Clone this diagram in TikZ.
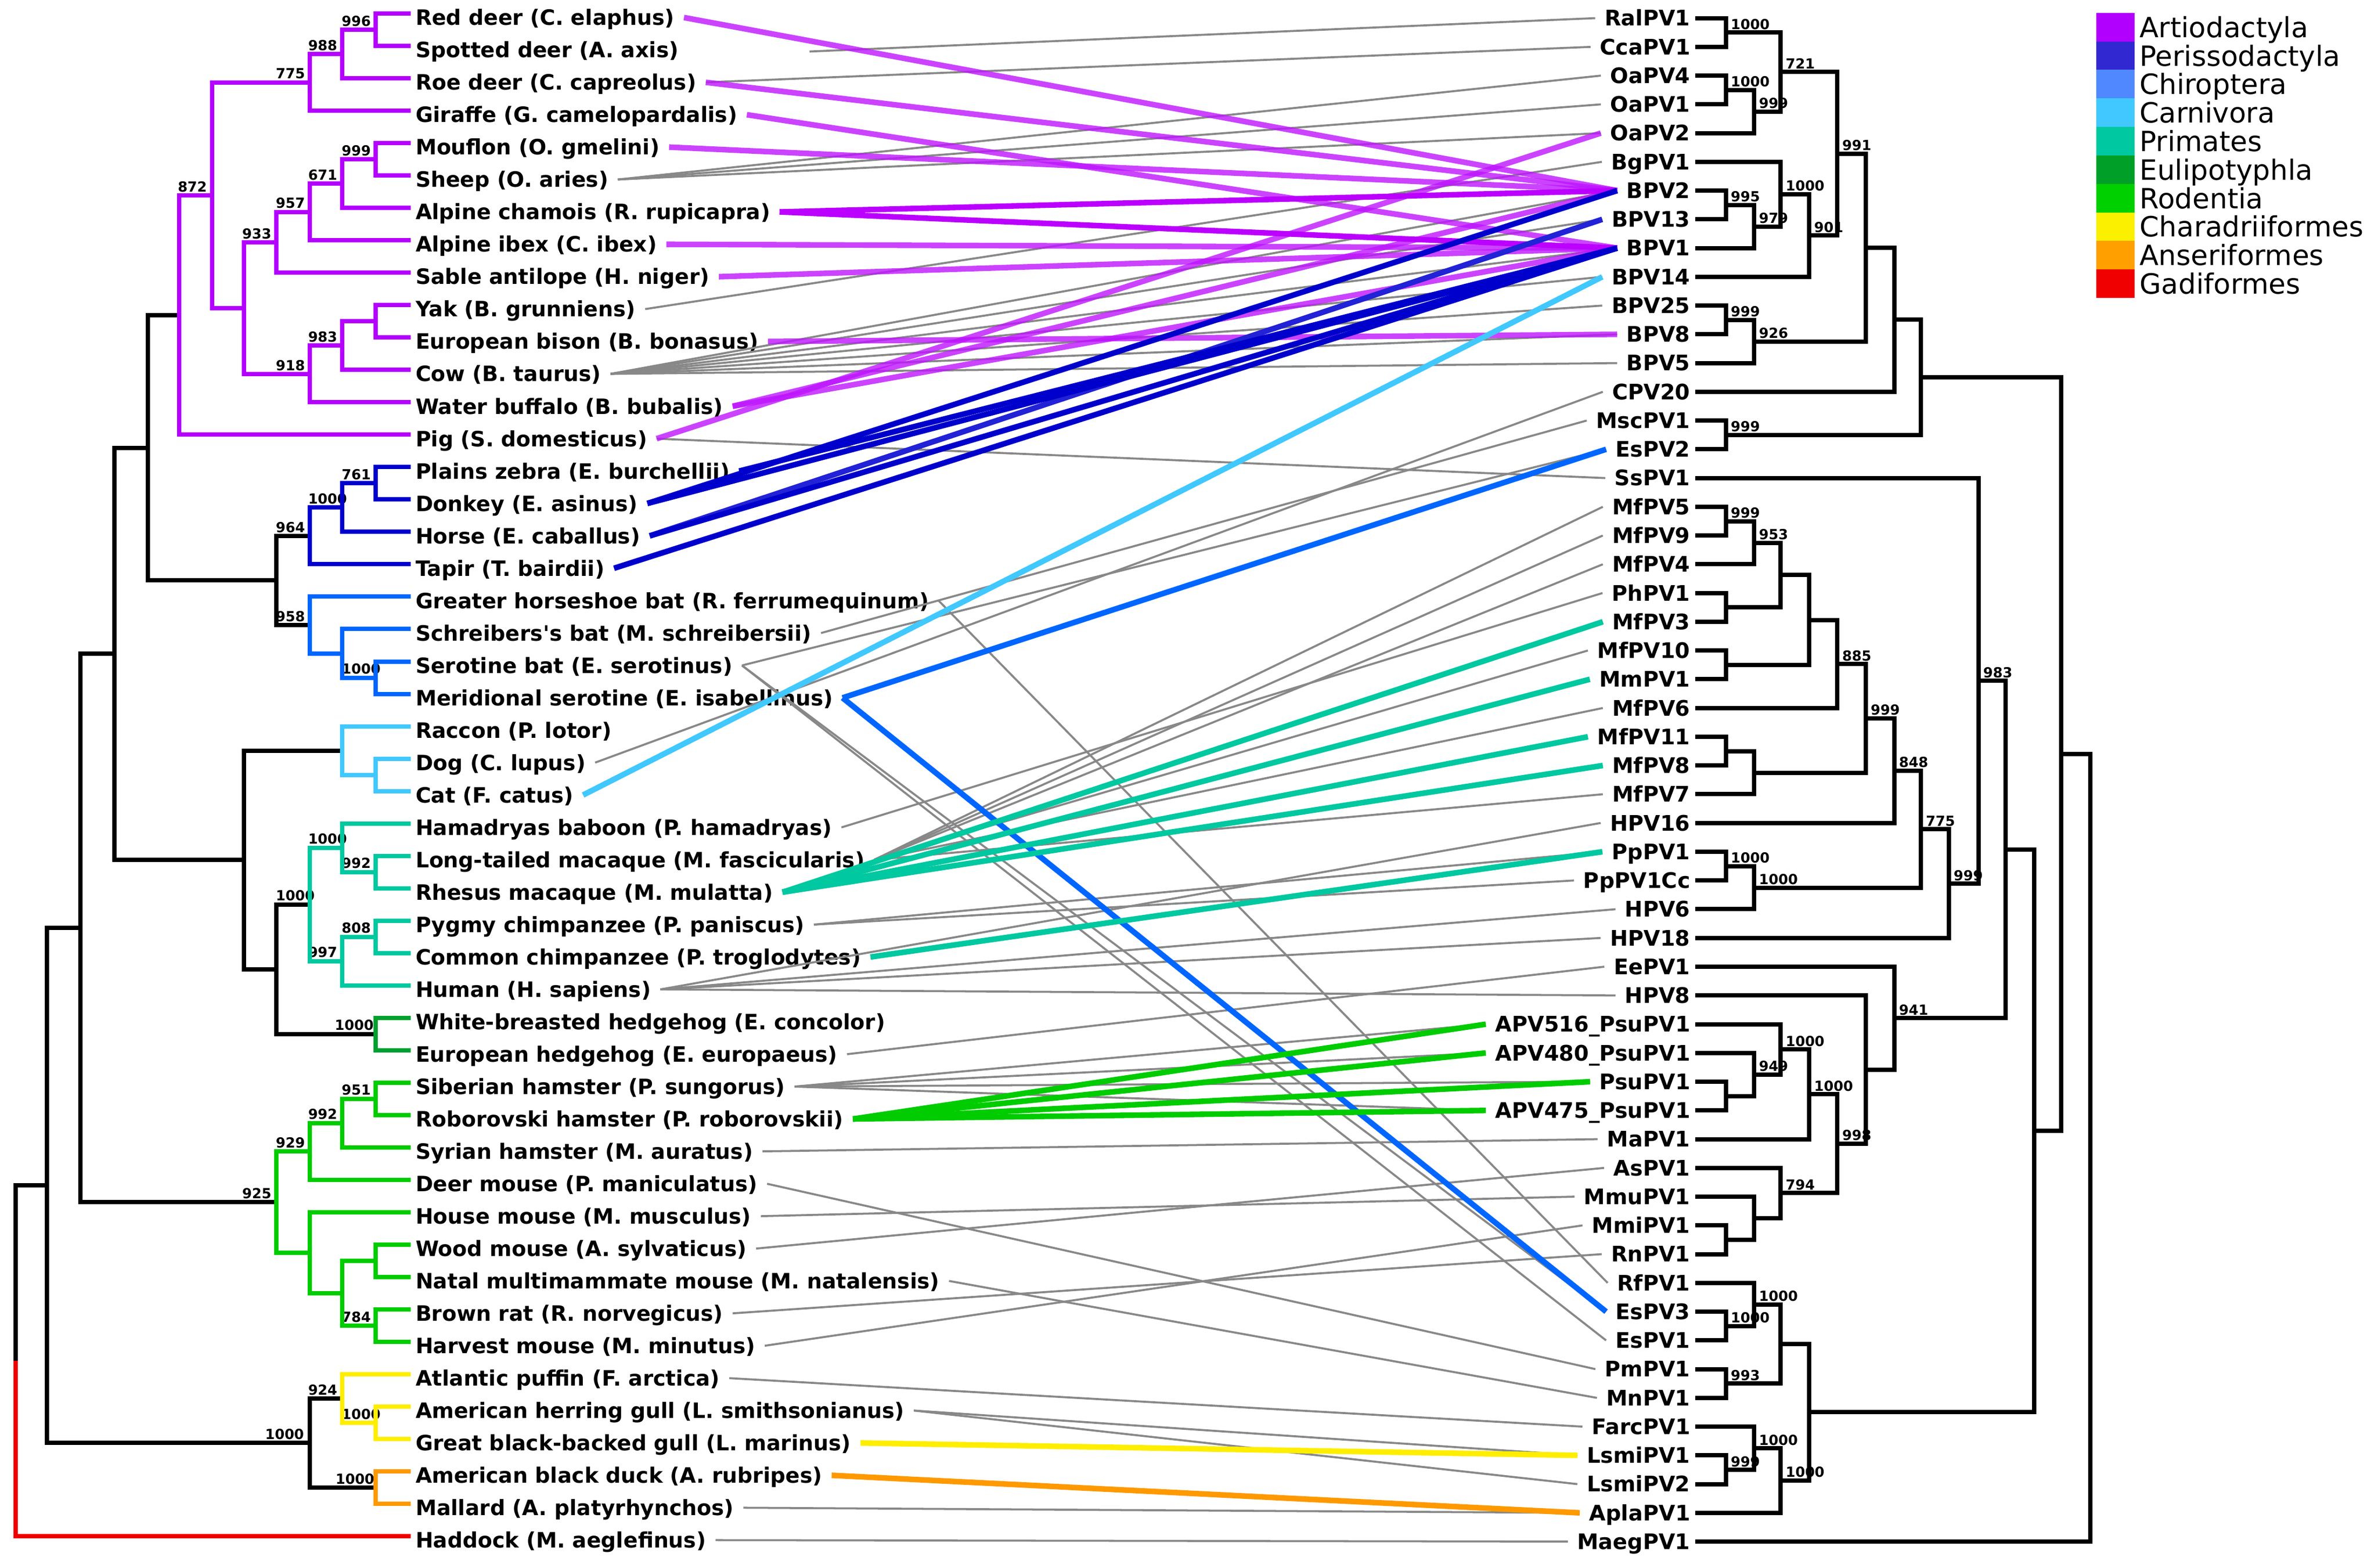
\documentclass[tikz,border=0pt]{standalone}
\usepackage{fontspec}
\setmainfont{DejaVu Sans}
\usetikzlibrary{positioning}

% tree colours
\definecolor{artio}{RGB}{180,0,255}
\definecolor{peri}{RGB}{0,0,204}
\definecolor{chiro}{RGB}{0,102,255}
\definecolor{carni}{RGB}{64,200,255}
\definecolor{prim}{RGB}{0,200,160}
\definecolor{euli}{RGB}{0,160,48}
\definecolor{rode}{RGB}{0,204,0}
\definecolor{chara}{RGB}{255,238,0}
\definecolor{anser}{RGB}{255,153,0}
\definecolor{gadi}{RGB}{238,0,0}
% legend colours
\definecolor{lgartio}{RGB}{178,0,255}
\definecolor{lgperi}{RGB}{50,40,210}
\definecolor{lgchiro}{RGB}{80,136,255}
\definecolor{lgcarni}{RGB}{64,200,255}
\definecolor{lgprim}{RGB}{0,200,160}
\definecolor{lgeuli}{RGB}{0,160,40}
\definecolor{lgrode}{RGB}{0,208,0}
\definecolor{lgchara}{RGB}{250,240,0}
\definecolor{lganser}{RGB}{255,160,0}
\definecolor{lggadi}{RGB}{240,0,0}
% link colours
\definecolor{linkgray}{RGB}{136,136,136}
\definecolor{artiolink}{RGB}{190,20,255}
\definecolor{chamlink}{RGB}{187,0,255}
\definecolor{horselink}{RGB}{34,34,214}

% one bracket of a tree: node x, child y's, child x's
\newcommand{\clade}[6][black]{%
  \draw[branch,#1] (#5,#3) -- (#2,#3) -- (#2,#4) -- (#6,#4);}

% columns of the host tree
\def\ltip{269.5}
\def\lxa{246.6}\def\lxb{224.6}\def\lxc{203.4}\def\lxd{181.4}
\def\lxe{160}\def\lxf{139.1}\def\lxg{117.4}\def\lxh{96.9}
\def\lxi{74.9}\def\lxj{52.8}\def\lxk{30.8}\def\lxl{10.3}
% columns of the virus tree
\def\rtip{1112}
\def\rxa{1132.2}\def\rxb{1150.7}\def\rxc{1168.2}\def\rxd{1186.9}
\def\rxe{1205.3}\def\rxf{1224}\def\rxg{1242.6}\def\rxh{1260.2}
\def\rxi{1278.4}\def\rxj{1297.8}\def\rxk{1315.8}\def\rxl{1334.6}
\def\rxm{1352.2}\def\rxn{1371.2}

\begin{document}
\begin{tikzpicture}[x=0.3mm,y=-0.3mm,
  branch/.style={line width=0.85mm},
  host/.style={anchor=west,inner xsep=1.8mm,inner ysep=0pt,text height=8.65pt,text depth=0pt,font=\bfseries\fontsize{11.85}{13}\selectfont},
  virus/.style={host,anchor=east,font=\bfseries\fontsize{12}{13}\selectfont},
  boot/.style={inner sep=0pt,anchor=base west,font=\bfseries\fontsize{7.8}{9}\selectfont},
  lboot/.style={boot,xshift=-6.8mm,yshift=0.72mm},
  rboot/.style={boot,xshift=0.9mm,yshift=0.63mm},
  graylink/.style={draw=linkgray,line width=0.4mm},
  hostlink/.style={line width=1.1mm},
  swatch/.style={anchor=west,minimum width=7.56mm,minimum height=5.65mm,inner sep=0pt},
  lgtext/.style={inner sep=0pt,text height=11.4pt,text depth=0pt,font=\fontsize{15.6}{18}\selectfont}]

\path[use as bounding box,fill=white] (0,0) rectangle (1560,1028.2);

%host labels
\foreach \nm/\txt [count=\i from 0] in {reddeer/Red deer (C. elaphus),
  spotdeer/Spotted deer (A. axis), roedeer/Roe deer (C. capreolus),
  giraffe/Giraffe (G. camelopardalis), mouflon/Mouflon (O. gmelini),
  sheep/Sheep (O. aries), chamois/Alpine chamois (R. rupicapra),
  ibex/Alpine ibex (C. ibex), sable/Sable antilope (H. niger),
  yak/Yak (B. grunniens), bison/European bison (B. bonasus),
  cow/Cow (B. taurus), buffalo/Water buffalo (B. bubalis),
  pig/Pig (S. domesticus), zebra/Plains zebra (E. burchellii),
  donkey/Donkey (E. asinus), horse/Horse (E. caballus),
  tapir/Tapir (T. bairdii), horseshoe/Greater horseshoe bat (R. ferrumequinum),
  schreibers/Schreibers{\textquotesingle}s bat (M. schreibersii),
  serotine/Serotine bat (E. serotinus),
  meridional/Meridional serotine (E. isabellinus),
  raccon/Raccon (P. lotor), dog/Dog (C. lupus), cat/Cat (F. catus),
  baboon/Hamadryas baboon (P. hamadryas),
  longtailed/Long-tailed macaque (M. fascicularis),
  rhesus/Rhesus macaque (M. mulatta), pygmy/Pygmy chimpanzee (P. paniscus),
  chimp/Common chimpanzee (P. troglodytes), human/Human (H. sapiens),
  whhedgehog/White-breasted hedgehog (E. concolor),
  euhedgehog/European hedgehog (E. europaeus),
  sibhamster/Siberian hamster (P. sungorus),
  robhamster/Roborovski hamster (P. roborovskii),
  syrhamster/Syrian hamster (M. auratus), deermouse/Deer mouse (P. maniculatus),
  housemouse/House mouse (M. musculus), woodmouse/Wood mouse (A. sylvaticus),
  natal/Natal multimammate mouse (M. natalensis),
  brownrat/Brown rat (R. norvegicus), harvest/Harvest mouse (M. minutus),
  puffin/Atlantic puffin (F. arctica),
  herring/American herring gull (L. smithsonianus),
  blackgull/Great black-backed gull (L. marinus),
  duck/American black duck (A. rubripes),
  mallard/Mallard (A. platyrhynchos), haddock/Haddock (M. aeglefinus)}
  \node[host] (\nm) at (266.4,{11.5+21.25*\i}) {\txt};

%virus labels
\foreach \nm/\txt [count=\j from 0] in {RalPV1/RalPV1, CcaPV1/CcaPV1,
  OaPV4/OaPV4, OaPV1/OaPV1, OaPV2/OaPV2, BgPV1/BgPV1, BPV2/BPV2,
  BPV13/BPV13, BPV1/BPV1, BPV14/BPV14, BPV25/BPV25, BPV8/BPV8, BPV5/BPV5,
  CPV20/CPV20, MscPV1/MscPV1, EsPV2/EsPV2, SsPV1/SsPV1, MfPV5/MfPV5,
  MfPV9/MfPV9, MfPV4/MfPV4, PhPV1/PhPV1, MfPV3/MfPV3, MfPV10/MfPV10,
  MmPV1/MmPV1, MfPV6/MfPV6, MfPV11/MfPV11, MfPV8/MfPV8, MfPV7/MfPV7,
  HPV16/HPV16, PpPV1/PpPV1, PpPV1Cc/PpPV1Cc, HPV6/HPV6, HPV18/HPV18,
  EePV1/EePV1, HPV8/HPV8, APV516/APV516\_PsuPV1, APV480/APV480\_PsuPV1,
  PsuPV1/PsuPV1, APV475/APV475\_PsuPV1, MaPV1/MaPV1, AsPV1/AsPV1,
  MmuPV1/MmuPV1, MmiPV1/MmiPV1, RnPV1/RnPV1, RfPV1/RfPV1, EsPV3/EsPV3,
  EsPV1/EsPV1, PmPV1/PmPV1, MnPV1/MnPV1, FarcPV1/FarcPV1, LsmiPV1/LsmiPV1,
  LsmiPV2/LsmiPV2, AplaPV1/AplaPV1, MaegPV1/MaegPV1}
  \node[virus] (\nm) at (1115,{11.9+18.855*\j}) {\txt};

%host-virus links, thin first
\coordinate (axisfree) at (531,33.8);
\draw[graylink] (axisfree) -- (RalPV1.west);
\foreach \a/\b in {roedeer/CcaPV1, sheep/OaPV4, sheep/OaPV1, sheep/OaPV2,
  yak/BgPV1, cow/BPV2, cow/BPV13, cow/BPV1, cow/BPV14, cow/BPV25, cow/BPV8,
  cow/BPV5, pig/SsPV1, horseshoe/RfPV1, schreibers/MscPV1, serotine/EsPV2,
  serotine/EsPV3, serotine/EsPV1, dog/CPV20, baboon/PhPV1, longtailed/MfPV5,
  longtailed/MfPV9, longtailed/MfPV4, longtailed/MfPV10, longtailed/MfPV6,
  longtailed/MfPV7, pygmy/PpPV1, pygmy/PpPV1Cc, human/HPV16, human/HPV6,
  human/HPV18, human/HPV8, euhedgehog/EePV1, sibhamster/APV516,
  sibhamster/APV480, sibhamster/PsuPV1, sibhamster/APV475, syrhamster/MaPV1,
  deermouse/PmPV1, housemouse/MmuPV1, woodmouse/AsPV1, natal/MnPV1,
  brownrat/RnPV1, harvest/MmiPV1, puffin/FarcPV1, herring/LsmiPV1,
  herring/LsmiPV2, mallard/AplaPV1, haddock/MaegPV1}
  \draw[graylink] (\a.east) -- (\b.west);

%thick coloured links
\foreach \a/\b in {reddeer/BPV2, roedeer/BPV2, giraffe/BPV1, mouflon/BPV2,
  ibex/BPV1, sable/BPV1, bison/BPV8, buffalo/BPV2, buffalo/BPV1, pig/OaPV2}
  \draw[hostlink,artiolink,opacity=0.8] (\a.east) -- (\b.west);
\foreach \b in {BPV2, BPV1}
  \draw[hostlink,chamlink] (chamois.east) -- (\b.west);
\draw[hostlink,horselink] (horse.east) -- (BPV13.west);
\foreach \a/\b in {zebra/BPV1, donkey/BPV2, donkey/BPV1, horse/BPV1, tapir/BPV1}
  \draw[hostlink,peri] (\a.east) -- (\b.west);
\foreach \b in {EsPV2, EsPV3}
  \draw[hostlink,chiro] (meridional.east) -- (\b.west);
\draw[hostlink,carni] (cat.east) -- (BPV14.west);
\foreach \a/\b in {rhesus/MfPV3, rhesus/MmPV1, rhesus/MfPV11, rhesus/MfPV8, chimp/PpPV1}
  \draw[hostlink,prim] (\a.east) -- (\b.west);
\foreach \b in {APV516, APV480, PsuPV1, APV475}
  \draw[hostlink,rode] (robhamster.east) -- (\b.west);
\draw[hostlink,chara] (blackgull.east) -- (LsmiPV1.west);
\draw[hostlink,anser] (duck.east) -- (AplaPV1.west);

%bootstrap values, host tree
\foreach \px/\py/\val [count=\n] in {\lxa/19.525/996, \lxb/35.4625/988,
  \lxc/54.056/775, \lxa/104.525/999, \lxb/120.4625/671, \lxc/139.056/957,
  \lxd/158.978/933, \lxb/226.7125/983, \lxc/245.306/918, \lxf/128.099/872,
  \lxa/317.025/761, \lxb/332.9625/1000, \lxc/351.556/964, \lxa/444.525/1000,
  \lxc/409.994/958, \lxa/572.025/992, \lxb/556.0875/1000, \lxa/614.525/808,
  \lxb/630.4625/997, \lxc/593.275/1000, \lxa-4.5/678.275/1000,
  \lxa/720.775/951, \lxb/736.7125/992, \lxc/755.306/929, \lxa/869.525/784,
  \lxd/788.509/925, \lxa/933.275/1000, \lxb/917.3375/924,
  \lxa-4/975.775/1000, \lxc-7/946.556/1000}
  \node[lboot] (lb\n) at (\px,\py) {\val};

%bootstrap values, virus tree
\foreach \px/\py/\val [count=\n] in {\rxa/21.3275/1000, \rxa/59.0375/1000,
  \rxb/73.179/999, \rxc/47.253/721, \rxa/134.4575/995, \rxb/148.599/979,
  \rxc/127.387/1000, \rxd/154.491/901, \rxe/100.872/991, \rxa/209.8775/999,
  \rxb/224.019/926, \rxa/285.2975/999, \rxa/341.8625/999, \rxb/356.004/953,
  \rxe/435.548/885, \rxf/471.196/999, \rxg/505.518/848, \rxa/568.1225/1000,
  \rxb/582.264/1000, \rxh/543.891/775, \rxi/579.576/999, \rxj/446.578/983,
  \rxb/704.821/949, \rxc/688.323/1000, \rxd/717.784/1000, \rxc/782.598/794,
  \rxe/750.191/998, \rxg/667.848/941, \rxa/869.8025/1000, \rxb/855.661/1000,
  \rxa/907.5125/993, \rxa/964.0775/999, \rxb/949.936/1000, \rxc/971.148/1000}
  \node[rboot] (rb\n) at (\px,\py) {\val};

%host tree, black part
\clade{\lxd}{351.556}{409.994}{\lxc}{\lxc}
\clade{\lxh}{206.625}{380.775}{\lxg}{\lxd}
\clade{\lxd}{593.275}{678.275}{\lxc}{\lxa}
\clade{\lxe}{492.3375}{635.775}{\lxb}{\lxd}
\clade{\lxi}{293.7}{564.056}{\lxh}{\lxe}
\clade{\lxj}{428.878}{788.509}{\lxi}{\lxd}
\clade{\lxc}{917.3375}{975.775}{\lxb}{\lxa}
\clade{\lxk}{608.694}{946.556}{\lxj}{\lxc}
\draw[branch] (\lxk,777.625) -- (\lxl,777.625) -- (\lxl,892.64);
\draw[branch,gadi] (\lxl,892.64) -- (\lxl,1007.65) -- (\ltip,1007.65);
%Artiodactyla
\clade[artio]{\lxa}{8.9}{30.15}{\ltip}{\ltip}
\clade[artio]{\lxb}{19.525}{51.4}{\lxa}{\ltip}
\clade[artio]{\lxc}{35.4625}{72.65}{\lxb}{\ltip}
\clade[artio]{\lxa}{93.9}{115.15}{\ltip}{\ltip}
\clade[artio]{\lxb}{104.525}{136.4}{\lxa}{\ltip}
\clade[artio]{\lxc}{120.4625}{157.65}{\lxb}{\ltip}
\clade[artio]{\lxd}{139.056}{178.9}{\lxc}{\ltip}
\clade[artio]{\lxa}{200.15}{221.4}{\ltip}{\ltip}
\clade[artio]{\lxb}{210.775}{242.65}{\lxa}{\ltip}
\clade[artio]{\lxc}{226.7125}{263.9}{\lxb}{\ltip}
\clade[artio]{\lxe}{158.978}{245.306}{\lxd}{\lxc}
\clade[artio]{\lxf}{54.056}{202.142}{\lxc}{\lxe}
\clade[artio]{\lxg}{128.099}{285.15}{\lxf}{\ltip}
%Perissodactyla
\clade[peri]{\lxa}{306.4}{327.65}{\ltip}{\ltip}
\clade[peri]{\lxb}{317.025}{348.9}{\lxa}{\ltip}
\clade[peri]{\lxc}{332.9625}{370.15}{\lxb}{\ltip}
%Chiroptera
\clade[chiro]{\lxa}{433.9}{455.15}{\ltip}{\ltip}
\clade[chiro]{\lxb}{412.65}{444.525}{\ltip}{\lxa}
\clade[chiro]{\lxc}{391.4}{428.5875}{\ltip}{\lxb}
%Carnivora
\clade[carni]{\lxa}{497.65}{518.9}{\ltip}{\ltip}
\clade[carni]{\lxb}{476.4}{508.275}{\ltip}{\lxa}
%Primates
\clade[prim]{\lxa}{561.4}{582.65}{\ltip}{\ltip}
\clade[prim]{\lxb}{540.15}{572.025}{\ltip}{\lxa}
\clade[prim]{\lxa}{603.9}{625.15}{\ltip}{\ltip}
\clade[prim]{\lxb}{614.525}{646.4}{\lxa}{\ltip}
\clade[prim]{\lxc}{556.0875}{630.4625}{\lxb}{\lxb}
%Eulipotyphla
\clade[euli]{\lxa}{667.65}{688.9}{\ltip}{\ltip}
%Rodentia
\clade[rode]{\lxa}{710.15}{731.4}{\ltip}{\ltip}
\clade[rode]{\lxb}{720.775}{752.65}{\lxa}{\ltip}
\clade[rode]{\lxc}{736.7125}{773.9}{\lxb}{\ltip}
\clade[rode]{\lxa}{816.4}{837.65}{\ltip}{\ltip}
\clade[rode]{\lxa}{858.9}{880.15}{\ltip}{\ltip}
\clade[rode]{\lxb}{827.025}{869.525}{\lxa}{\lxa}
\clade[rode]{\lxc}{795.15}{848.275}{\ltip}{\lxb}
\clade[rode]{\lxd}{755.306}{821.7125}{\lxc}{\lxc}
%birds
\clade[chara]{\lxa}{922.65}{943.9}{\ltip}{\ltip}
\clade[chara]{\lxb}{901.4}{933.275}{\ltip}{\lxa}
\clade[anser]{\lxa}{965.15}{986.4}{\ltip}{\ltip}

%virus tree
\clade{\rxa}{11.9}{30.755}{\rtip}{\rtip}
\clade{\rxa}{49.61}{68.465}{\rtip}{\rtip}
\clade{\rxb}{59.0375}{87.32}{\rxa}{\rtip}
\clade{\rxc}{21.3275}{73.179}{\rxa}{\rxb}
\clade{\rxa}{125.03}{143.885}{\rtip}{\rtip}
\clade{\rxb}{134.4575}{162.74}{\rxa}{\rtip}
\clade{\rxc}{106.175}{148.599}{\rtip}{\rxb}
\clade{\rxd}{127.387}{181.595}{\rxc}{\rtip}
\clade{\rxe}{47.253}{154.491}{\rxc}{\rxd}
\clade{\rxa}{200.45}{219.305}{\rtip}{\rtip}
\clade{\rxb}{209.8775}{238.16}{\rxa}{\rtip}
\clade{\rxf}{100.872}{224.019}{\rxe}{\rxb}
\clade{\rxg}{162.445}{257.015}{\rxf}{\rtip}
\clade{\rxa}{275.87}{294.725}{\rtip}{\rtip}
\clade{\rxh}{209.73}{285.2975}{\rxg}{\rxa}
\clade{\rxa}{332.435}{351.29}{\rtip}{\rtip}
\clade{\rxb}{341.8625}{370.145}{\rxa}{\rtip}
\clade{\rxa}{389}{407.855}{\rtip}{\rtip}
\clade{\rxc}{356.004}{398.4275}{\rxb}{\rxa}
\clade{\rxa}{426.71}{445.565}{\rtip}{\rtip}
\clade{\rxd}{377.216}{436.1375}{\rxc}{\rxa}
\clade{\rxe}{406.677}{464.42}{\rxd}{\rtip}
\clade{\rxa}{483.275}{502.13}{\rtip}{\rtip}
\clade{\rxb}{492.7025}{520.985}{\rxa}{\rtip}
\clade{\rxf}{435.548}{506.844}{\rxe}{\rxb}
\clade{\rxg}{471.196}{539.84}{\rxf}{\rtip}
\clade{\rxa}{558.695}{577.55}{\rtip}{\rtip}
\clade{\rxb}{568.1225}{596.405}{\rxa}{\rtip}
\clade{\rxh}{505.518}{582.264}{\rxg}{\rxb}
\clade{\rxi}{543.891}{615.26}{\rxh}{\rtip}
\clade{\rxj}{313.58}{579.576}{\rtip}{\rxi}
\clade{\rxa}{709.535}{728.39}{\rtip}{\rtip}
\clade{\rxb}{690.68}{718.9625}{\rtip}{\rxa}
\clade{\rxc}{671.825}{704.821}{\rtip}{\rxb}
\clade{\rxd}{688.323}{747.245}{\rxc}{\rtip}
\clade{\rxa}{803.81}{822.665}{\rtip}{\rtip}
\clade{\rxb}{784.955}{813.2375}{\rtip}{\rxa}
\clade{\rxc}{766.1}{799.096}{\rtip}{\rxb}
\clade{\rxe}{717.784}{782.598}{\rxd}{\rxc}
\clade{\rxf}{652.97}{750.191}{\rtip}{\rxe}
\clade{\rxg}{634.115}{701.58}{\rtip}{\rxf}
\clade{\rxk}{446.578}{667.848}{\rxj}{\rxg}
\clade{\rxa}{860.375}{879.23}{\rtip}{\rtip}
\clade{\rxb}{841.52}{869.8025}{\rtip}{\rxa}
\clade{\rxa}{898.085}{916.94}{\rtip}{\rtip}
\clade{\rxc}{855.661}{907.5125}{\rxb}{\rxa}
\clade{\rxa}{954.65}{973.505}{\rtip}{\rtip}
\clade{\rxb}{935.795}{964.0775}{\rtip}{\rxa}
\clade{\rxc}{949.936}{992.36}{\rxb}{\rtip}
\clade{\rxd}{881.587}{971.148}{\rxc}{\rxc}
\clade{\rxl}{557.213}{926.368}{\rxk}{\rxd}
\clade{\rxm}{247.514}{741.79}{\rxh}{\rxl}
\clade{\rxn}{494.652}{1011.215}{\rxm}{\rtip}

%legend
\foreach \c/\txt [count=\k from 0] in {lgartio/Artiodactyla,
  lgperi/Perissodactyla, lgchiro/Chiroptera, lgcarni/Carnivora,
  lgprim/Primates, lgeuli/Eulipotyphla, lgrode/Rodentia,
  lgchara/Charadriiformes, lganser/Anseriformes, lggadi/Gadiformes}{
  \node[swatch,fill=\c] (sw\k) at (1374.8,{17.85+18.7*\k}) {};
  \node[lgtext,right=0.9mm of sw\k] (lg\k) {\txt};
}
\end{tikzpicture}
\end{document}
